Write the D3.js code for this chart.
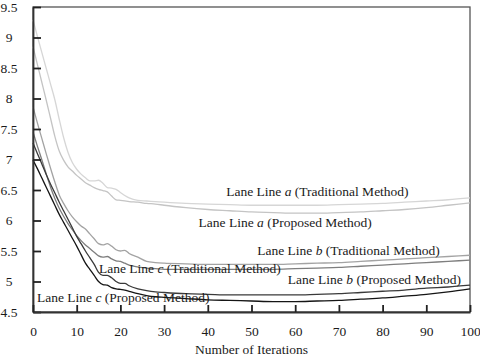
<!DOCTYPE html>
<html><head><meta charset="utf-8">
<script src="https://cdn.jsdelivr.net/npm/d3@7"></script>
<style>body{margin:0;background:#fff}svg{display:block}text{font-family:"Liberation Serif","Times New Roman",serif !important;fill:#1a1a1a}</style>
</head><body><svg id="c" width="480" height="359" font-family="Liberation Serif"></svg>
<script>
const iterations = [0,1,2,3,4,5,6,7,8,9,10,11,12,13,14,15,16,17,18,19,20,21,22,24,26,28,30,35,40,45,50,55,60,65,70,75,80,85,90,95,100];
const laneATraditional = [9.29,9.02,8.76,8.5,8.24,7.98,7.66,7.36,7.12,6.95,6.84,6.76,6.7,6.65,6.65,6.66,6.61,6.54,6.53,6.51,6.46,6.41,6.37,6.33,6.32,6.31,6.3,6.28,6.27,6.26,6.25,6.25,6.25,6.25,6.26,6.27,6.28,6.3,6.32,6.34,6.37];
const laneAProposed = [8.85,8.56,8.27,7.98,7.68,7.38,7.14,6.99,6.88,6.81,6.74,6.68,6.62,6.58,6.54,6.51,6.49,6.47,6.4,6.34,6.33,6.32,6.31,6.3,6.28,6.27,6.25,6.21,6.18,6.16,6.14,6.13,6.12,6.12,6.13,6.14,6.16,6.18,6.21,6.25,6.29];
const laneBTraditional = [7.86,7.6,7.35,7.1,6.86,6.63,6.42,6.28,6.16,6.06,5.98,5.91,5.86,5.78,5.7,5.62,5.6,5.62,5.58,5.52,5.5,5.51,5.46,5.4,5.33,5.31,5.3,5.29,5.28,5.28,5.28,5.28,5.29,5.3,5.31,5.33,5.35,5.37,5.39,5.41,5.43];
const laneBProposed = [7.45,7.22,7.0,6.77,6.55,6.36,6.2,6.07,5.95,5.85,5.75,5.67,5.6,5.54,5.48,5.42,5.4,5.41,5.37,5.34,5.33,5.3,5.27,5.24,5.22,5.21,5.2,5.2,5.2,5.2,5.2,5.2,5.21,5.22,5.23,5.25,5.27,5.29,5.31,5.33,5.35];
const laneCTraditional = [7.27,7.1,6.93,6.76,6.6,6.45,6.3,6.16,6.02,5.88,5.74,5.62,5.5,5.39,5.28,5.15,5.1,5.1,5.06,5.0,4.97,4.97,4.93,4.88,4.85,4.83,4.82,4.8,4.79,4.78,4.78,4.78,4.78,4.79,4.8,4.82,4.84,4.86,4.89,4.91,4.94];
const laneCProposed = [6.99,6.85,6.7,6.55,6.4,6.25,6.1,5.97,5.84,5.71,5.58,5.44,5.3,5.2,5.1,5.0,4.95,4.94,4.9,4.88,4.87,4.86,4.84,4.8,4.77,4.75,4.74,4.72,4.7,4.69,4.68,4.67,4.67,4.68,4.69,4.71,4.73,4.76,4.79,4.83,4.88];
const xTicks = [0,10,20,30,40,50,60,70,80,90,100];
const yTicks = [4.5,5,5.5,6,6.5,7,7.5,8,8.5,9,9.5];
const seriesNames = ["Lane Line a (Traditional Method)","Lane Line a (Proposed Method)","Lane Line b (Traditional Method)","Lane Line b (Proposed Method)","Lane Line c (Traditional Method)","Lane Line c (Proposed Method)"];
const seriesValues = [laneATraditional,laneAProposed,laneBTraditional,laneBProposed,laneCTraditional,laneCProposed];
const seriesColors = ["#d6d6d6","#c4c4c4","#a3a3a3","#7e7e7e","#3a3a3a","#151515"];
// label anchor points in data units (x iteration, y value of baseline)
const labelPos = [[44.2,6.407],[37.9,5.893],[51.3,5.434],[58.3,4.959],[15.1,5.139],[0.9,4.659]];

const FONT = "'Liberation Serif','Times New Roman',serif";
const svg = d3.select("#c");
const m = {l:33,r:470,t:7,b:312};
const x = d3.scaleLinear().domain([0,100]).range([m.l,m.r]);
const y = d3.scaleLinear().domain([4.5,9.5]).range([m.b,m.t]);

svg.append("rect").attr("x",m.l).attr("y",m.t).attr("width",m.r-m.l).attr("height",m.b-m.t)
  .attr("fill","none").attr("stroke","#555").attr("stroke-width",1.3);

const line = d3.line().x((d,i)=>x(iterations[i])).y(d=>y(d)).curve(d3.curveMonotoneX);
seriesValues.forEach((vals,k)=>{
  svg.append("path").datum(vals).attr("d",line).attr("fill","none")
    .attr("stroke",seriesColors[k]).attr("stroke-width",1.3);
});

const yAxis = svg.append("g").attr("transform",`translate(${m.l},0)`)
  .call(d3.axisLeft(y).tickValues(yTicks).tickFormat(d3.format("")).tickSizeInner(-8).tickSizeOuter(0));
yAxis.attr("font-family",FONT);
yAxis.select(".domain").attr("stroke","#333").attr("stroke-width",1.8);
yAxis.selectAll(".tick line").attr("stroke","#222").attr("stroke-width",1.8);
yAxis.selectAll(".tick text").attr("x",-24).attr("text-anchor","middle").style("font-size","13.5px")
  .style("font-family",FONT).attr("fill","#1a1a1a");

const xAxis = svg.append("g").attr("transform",`translate(0,${m.b})`)
  .call(d3.axisBottom(x).tickValues(xTicks).tickSizeInner(-7).tickSizeOuter(0).tickPadding(14));
xAxis.attr("font-family",FONT);
xAxis.select(".domain").attr("stroke","#333").attr("stroke-width",1.8);
xAxis.selectAll(".tick line").attr("stroke","#222").attr("stroke-width",1.8);
xAxis.selectAll(".tick text").style("font-size","13.5px").style("font-family",FONT).attr("fill","#1a1a1a");

svg.append("text").attr("x",(m.l+m.r)/2).attr("y",354).attr("text-anchor","middle")
  .style("font-size","13.5px").style("font-family",FONT).text("Number of Iterations");

seriesNames.forEach((name,k)=>{
  const parts = name.match(/^(Lane Line )(\w)( .*)$/);
  const t = svg.append("text").attr("x",x(labelPos[k][0])).attr("y",y(labelPos[k][1]))
    .style("font-size","13.5px").style("font-family",FONT);
  t.append("tspan").text(parts[1]);
  t.append("tspan").style("font-style","italic").text(parts[2]);
  t.append("tspan").text(parts[3]);
});
</script></body></html>
